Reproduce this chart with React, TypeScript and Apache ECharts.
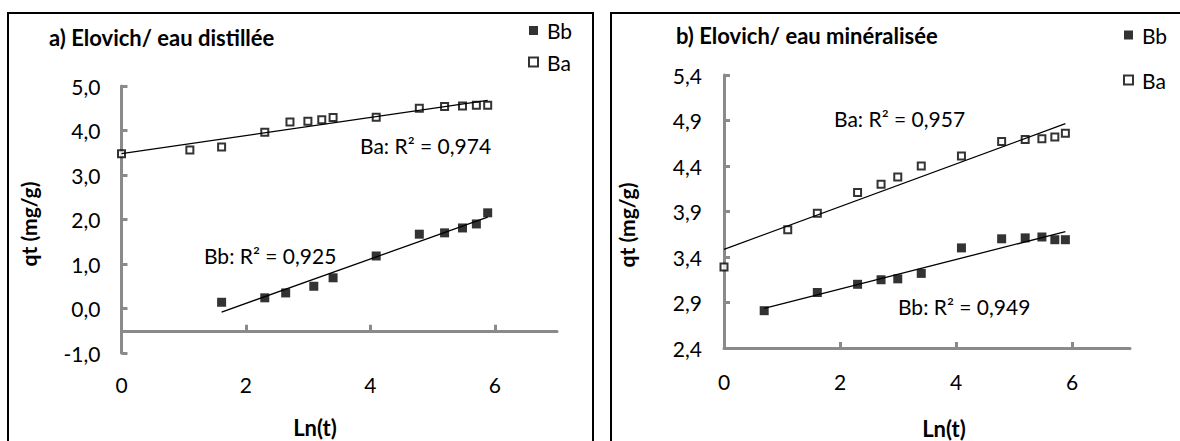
import React, { useEffect, useRef } from "react";
import * as echarts from "echarts";

// ---- data ----
// chart a) Elovich / eau distillée
const aBbX = [1.609, 2.303, 2.639, 3.091, 3.401, 4.094, 4.787, 5.193, 5.481, 5.704, 5.886];
const aBbY = [0.14, 0.24, 0.35, 0.5, 0.69, 1.18, 1.67, 1.7, 1.81, 1.9, 2.15];
const aBaX = [0, 1.099, 1.609, 2.303, 2.708, 2.996, 3.219, 3.401, 4.094, 4.787, 5.193, 5.481, 5.704, 5.886];
const aBaY = [3.48, 3.56, 3.63, 3.96, 4.19, 4.21, 4.24, 4.29, 4.3, 4.5, 4.54, 4.55, 4.57, 4.57];
// chart b) Elovich / eau minéralisée
const bBbX = [0.693, 1.609, 2.303, 2.708, 2.996, 3.401, 4.094, 4.787, 5.193, 5.481, 5.704, 5.886];
const bBbY = [2.81, 3.01, 3.1, 3.15, 3.16, 3.22, 3.5, 3.6, 3.61, 3.62, 3.59, 3.59];
const bBaX = [0, 1.099, 1.609, 2.303, 2.708, 2.996, 3.401, 4.094, 4.787, 5.193, 5.481, 5.704, 5.886];
const bBaY = [3.29, 3.7, 3.88, 4.11, 4.2, 4.28, 4.4, 4.51, 4.67, 4.69, 4.7, 4.72, 4.76];

const xTicks = [0, 2, 4, 6];
const titles = ["a) Elovich/ eau distillée", "b) Elovich/ eau minéralisée"];
const legendNames = ["Bb", "Ba"];
const r2Labels = ["Ba: R² = 0,974", "Bb: R² = 0,925", "Ba: R² = 0,957", "Bb: R² = 0,949"];
const xName = "Ln(t)";
const yName = "qt (mg/g)";

const FONT = "Lato, 'Noto Sans', sans-serif";
const GRAY = "#8a8a8a";
const FS = 21;

function zip(xs: number[], ys: number[]) {
  return xs.map((x, i) => [x, ys[i]]);
}

// Excel-style linear trendline over the data range
function trend(xs: number[], ys: number[]) {
  const n = xs.length;
  const mx = xs.reduce((a, b) => a + b, 0) / n;
  const my = ys.reduce((a, b) => a + b, 0) / n;
  let sxy = 0, sxx = 0;
  for (let i = 0; i < n; i++) {
    sxy += (xs[i] - mx) * (ys[i] - my);
    sxx += (xs[i] - mx) * (xs[i] - mx);
  }
  const b = sxy / sxx;
  const a = my - b * mx;
  const x0 = Math.min(...xs), x1 = Math.max(...xs);
  return [[x0, a + b * x0], [x1, a + b * x1]];
}

const fmt = (v: number) => v.toFixed(1).replace(".", ",");

export default function App() {
  const ref = useRef<HTMLDivElement>(null);
  useEffect(() => {
    if (!ref.current) return;
    const chart = echarts.init(ref.current, null, { renderer: "svg" });

    const labelStyle = { fontSize: FS, fontFamily: FONT, color: "#000" };
    const axisLine = { lineStyle: { color: GRAY, width: 3 } };
    const axisTick = { inside: true, length: 6, lineStyle: { color: GRAY, width: 3 } };

    const bbStyle = { color: "#000" };
    const baStyle = { color: "#fff", borderColor: "#000", borderWidth: 2 };

    const scatter = (name: string, xi: number, yi: number, data: number[][], filled: boolean) => ({
      name,
      type: "scatter",
      xAxisIndex: xi,
      yAxisIndex: yi,
      data,
      symbol: "rect",
      symbolSize: filled ? 9 : 7,
      itemStyle: filled ? bbStyle : baStyle,
      z: 2,
    });
    const line = (name: string, xi: number, yi: number, data: number[][]) => ({
      name,
      type: "line",
      xAxisIndex: xi,
      yAxisIndex: yi,
      data,
      showSymbol: false,
      silent: true,
      lineStyle: { color: "#000", width: 1.3 },
      z: 3,
    });

    const titleStyle = { fontSize: 22, fontWeight: "bold", fontFamily: FONT, color: "#000" };
    const bold = `bold ${FS}px ${FONT}`;
    const reg = `${FS}px ${FONT}`;

    const option: any = {
      animation: false,
      backgroundColor: "#fff",
      title: [
        { text: titles[0], left: 49, top: 26, padding: 0, textStyle: titleStyle },
        { text: titles[1], left: 676, top: 24, padding: 0, textStyle: titleStyle },
      ],
      legend: [
        {
          data: legendNames, orient: "vertical", left: 528, top: 20, padding: 0,
          itemWidth: 9, itemHeight: 9, itemGap: 10.5, textStyle: { ...labelStyle, padding: [0, 0, 0, 4] },
        },
        {
          data: legendNames, orient: "vertical", left: 1123, top: 24.5, padding: 0,
          itemWidth: 9, itemHeight: 9, itemGap: 24, textStyle: { ...labelStyle, padding: [0, 0, 0, 4] },
        },
      ],
      grid: [
        { left: 121.5, top: 86, width: 435.5, height: 267 },
        { left: 724, top: 75, width: 406, height: 273 },
      ],
      xAxis: [
        {
          type: "value", gridIndex: 0, min: 0, max: 7, interval: 2,
          axisLine: { ...axisLine, onZero: true, onZeroAxisIndex: 1 },
          axisTick: { ...axisTick, customValues: xTicks },
          axisLabel: { ...labelStyle, margin: 21, customValues: xTicks },
          splitLine: { show: false },
        },
        {
          type: "value", gridIndex: 1, min: 0, max: 7, interval: 2,
          axisLine: { ...axisLine, onZero: false },
          axisTick: { ...axisTick, customValues: xTicks },
          axisLabel: { ...labelStyle, margin: 23, customValues: xTicks },
          splitLine: { show: false },
        },
      ],
      yAxis: [
        {
          type: "value", gridIndex: 0, position: "left", min: -1, max: 5, interval: 1,
          axisLine: { ...axisLine, show: true, onZero: false },
          axisTick: { ...axisTick, show: true },
          axisLabel: { ...labelStyle, margin: 21, formatter: fmt },
          splitLine: { show: false },
        },
        {
          // helper axis: its zero sits at -0.5 of the main axis, where the x axis crosses
          type: "value", gridIndex: 0, position: "right", min: -0.5, max: 5.5, show: false,
          splitLine: { show: false },
        },
        {
          type: "value", gridIndex: 1, position: "left", min: 2.4, max: 5.4, interval: 0.5,
          axisLine: { ...axisLine, show: true, onZero: false },
          axisTick: { ...axisTick, show: true },
          axisLabel: { ...labelStyle, margin: 22, formatter: fmt },
          splitLine: { show: false },
        },
      ],
      graphic: [
        { type: "rect", shape: { x: 8, y: 13, width: 585, height: 440 }, style: { fill: "none", stroke: "#000", lineWidth: 2 }, z: 0 },
        { type: "rect", shape: { x: 611, y: 13, width: 600, height: 440 }, style: { fill: "none", stroke: "#000", lineWidth: 2 }, z: 0 },
        { type: "text", x: 28, y: 224, rotation: Math.PI / 2, style: { text: yName, fill: "#000", font: bold, align: "center", verticalAlign: "middle" } },
        { type: "text", x: 626, y: 225, rotation: Math.PI / 2, style: { text: yName, fill: "#000", font: bold, align: "center", verticalAlign: "middle" } },
        { type: "text", x: 315, y: 427, style: { text: xName, fill: "#000", font: `bold 22px ${FONT}`, align: "center", verticalAlign: "middle" } },
        { type: "text", x: 944, y: 428, style: { text: xName, fill: "#000", font: `bold 22px ${FONT}`, align: "center", verticalAlign: "middle" } },
        { type: "text", x: 360, y: 145, style: { text: r2Labels[0], fill: "#000", font: reg, align: "left", verticalAlign: "middle" } },
        { type: "text", x: 204, y: 255, style: { text: r2Labels[1], fill: "#000", font: reg, align: "left", verticalAlign: "middle" } },
        { type: "text", x: 834, y: 118, style: { text: r2Labels[2], fill: "#000", font: reg, align: "left", verticalAlign: "middle" } },
        { type: "text", x: 898, y: 306, style: { text: r2Labels[3], fill: "#000", font: reg, align: "left", verticalAlign: "middle" } },
      ],
      series: [
        scatter("Bb", 0, 0, zip(aBbX, aBbY), true),
        scatter("Ba", 0, 0, zip(aBaX, aBaY), false),
        line("Bb trend a", 0, 0, trend(aBbX, aBbY)),
        line("Ba trend a", 0, 0, trend(aBaX, aBaY)),
        scatter("Bb", 1, 2, zip(bBbX, bBbY), true),
        scatter("Ba", 1, 2, zip(bBaX, bBaY), false),
        line("Bb trend b", 1, 2, trend(bBbX, bBbY)),
        line("Ba trend b", 1, 2, trend(bBaX, bBaY)),
      ],
    };
    chart.setOption(option);
    return () => chart.dispose();
  }, []);

  return (
    <div
      ref={ref}
      style={{ position: "fixed", left: 0, top: 0, width: 1180, height: 441, background: "#fff" }}
    />
  );
}
